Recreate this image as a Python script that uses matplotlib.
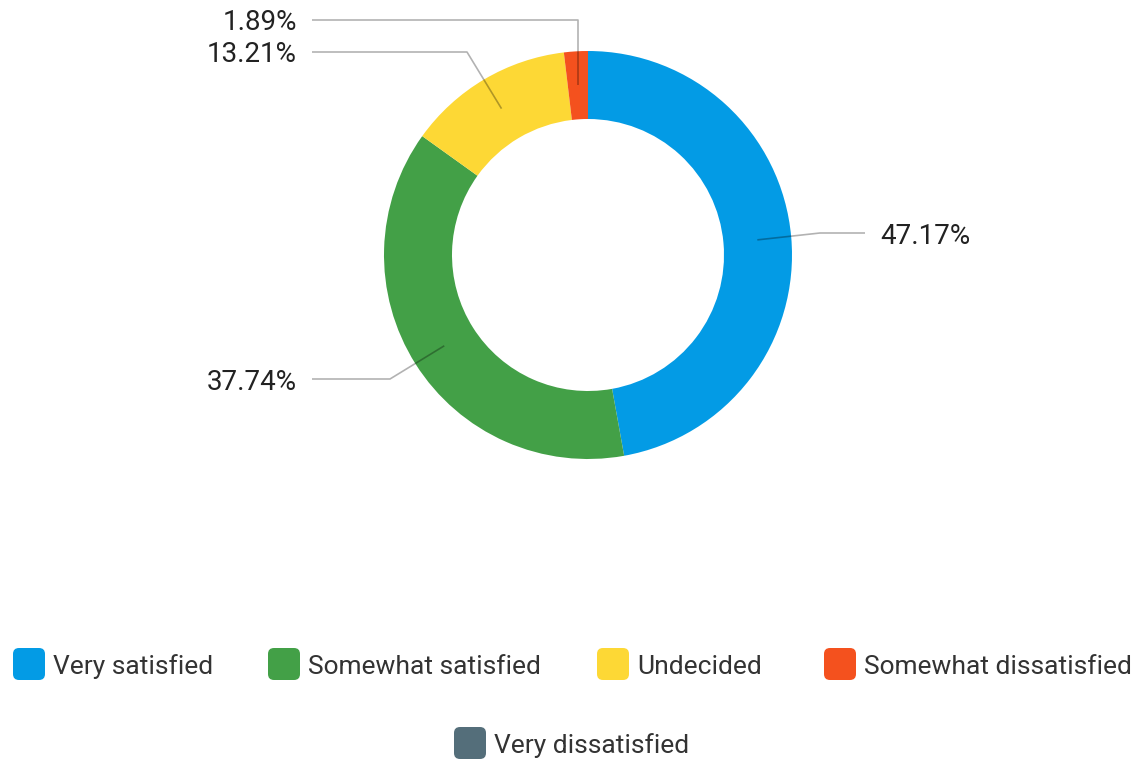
import numpy as np
import matplotlib.pyplot as plt
from matplotlib.patches import FancyBboxPatch

plt.rcParams['font.family'] = ['Roboto', 'DejaVu Sans']

categories = ['Very satisfied', 'Somewhat satisfied', 'Undecided',
              'Somewhat dissatisfied', 'Very dissatisfied']
shares = [47.17, 37.74, 13.21, 1.89, 0.0]
colors = ['#039BE5', '#43A047', '#FDD835', '#F4511E', '#546E7A']

W, H = 1138, 760
cx, cy = 588, H - 255
r_out, ring = 204, 68

fig = plt.figure(figsize=(W / 100, H / 100), dpi=100)
ax = fig.add_axes([0, 0, 1, 1])

wedges, _ = ax.pie(shares, colors=colors, startangle=90, counterclock=False,
                   radius=r_out, center=(cx, cy),
                   wedgeprops=dict(width=ring, linewidth=0))
ax.set_xlim(0, W)
ax.set_ylim(0, H)
ax.set_aspect('equal')
ax.axis('off')

# leader lines: elbow point, line end, label x, alignment
leaders = [
    ((820, 233), (865, 233), 880, 'left'),
    ((390, 379), (312, 379), 297, 'right'),
    ((467, 52), (312, 52), 297, 'right'),
    (None, (312, 20), 297, 'right'),
]

r_mid = r_out - ring / 2
for w, val, (elbow, end, lx, ha) in zip(wedges, shares, leaders):
    if val <= 0:
        continue
    ang = np.deg2rad((w.theta1 + w.theta2) / 2)
    sx, sy = cx + r_mid * np.cos(ang), cy + r_mid * np.sin(ang)
    if elbow is None:
        ex, ey = sx, H - end[1]
    else:
        ex, ey = elbow[0], H - elbow[1]
    ax.plot([sx, ex, end[0]], [sy, ey, H - end[1]], color='black',
            alpha=0.3, lw=1.2, solid_capstyle='butt')
    ax.text(lx, H - end[1], f'{val:.2f}%', ha=ha, va='center_baseline',
            fontsize=20, color='#222222')

# legend drawn as rounded swatches with labels
legend_pos = [(13, 664), (268, 664), (597, 664), (824, 664), (454, 743)]
for name, col, (bx, by) in zip(categories, colors, legend_pos):
    box = FancyBboxPatch((bx + 3, H - by - 13), 26, 26,
                         boxstyle='round,pad=3,rounding_size=6',
                         fc=col, ec='none')
    ax.add_patch(box)
    ax.text(bx + 40, H - by, name, ha='left', va='center_baseline',
            fontsize=19, color='#333333')

fig.savefig('out.png', dpi=100)
